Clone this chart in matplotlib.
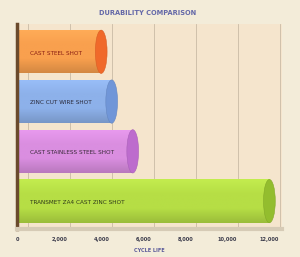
import matplotlib
matplotlib.use("Agg")
import matplotlib.pyplot as plt
import numpy as np
from matplotlib.patches import Ellipse
from matplotlib.colors import LinearSegmentedColormap, to_rgb
from matplotlib.transforms import ScaledTranslation
from matplotlib import font_manager

categories = ["CAST STEEL SHOT", "ZINC CUT WIRE SHOT",
              "CAST STAINLESS STEEL SHOT", "TRANSMET ZA4 CAST ZINC SHOT"]
cycle_life = [4000, 4500, 5500, 12000]
tick_values = [0, 2000, 4000, 6000, 8000, 10000, 12000]
tick_labels = ["0", "2,000", "4,000", "6,000", "8,000", "10,000", "12,000"]

bar_colors = ["#f9a04e", "#8db1ea", "#da8ee0", "#b6de45"]
cap_colors = ["#f0692a", "#7096d8", "#bd6ccd", "#93bd2e"]
label_colors = ["#8a1e12", "#2a2a3a", "#3a2a3a", "#2f3a1a"]

# condensed font for the labels
names = {f.name for f in font_manager.fontManager.ttflist}
if "Liberation Sans Narrow" in names:
    narrow = dict(family="Liberation Sans Narrow")
else:
    narrow = dict(family="DejaVu Sans", fontstretch="condensed")

fig = plt.figure(figsize=(3.0, 2.57), dpi=100)
fig.patch.set_facecolor("#f3ecd9")
ax = fig.add_axes([0.057, 0.109, 0.883, 0.798])
ax.set_facecolor("#f5e5cd")

y = np.arange(len(categories))
bars = ax.barh(y, cycle_life, height=0.87, color=bar_colors, zorder=2)

# cylinder shading + end caps
for bar, c, cc in zip(bars, bar_colors, cap_colors):
    x0, y0 = bar.get_x(), bar.get_y()
    w, h = bar.get_width(), bar.get_height()
    base = np.array(to_rgb(c))
    light = np.clip(base * 1.03 + 0.03, 0, 1)
    dark = base * 0.85
    cmap = LinearSegmentedColormap.from_list("cyl", [light, base, base, dark])
    grad = np.linspace(0, 1, 64).reshape(-1, 1)
    im = ax.imshow(grad, extent=(x0, x0 + w, y0 + h, y0), cmap=cmap,
                   aspect="auto", zorder=2.1)
    im.set_clip_path(bar)
    ax.add_patch(Ellipse((x0 + w, y0 + h / 2), width=560, height=h,
                         facecolor=cc, edgecolor=np.array(to_rgb(cc)) * 0.9,
                         lw=0.4, zorder=2.2))

for yi, name, lc in zip(y, categories, label_colors):
    ax.annotate(name, (0, yi), xytext=(9, -1), textcoords="offset points",
                va="center", ha="left", fontsize=4.6, color=lc, zorder=3,
                **narrow)

ax.set_xlim(0, 12600)
ax.set_ylim(3.56, -0.56)
ax.set_xticks(tick_values)
ax.set_xticklabels(tick_labels, fontsize=3.6, fontweight="bold", color="#3a3a4a")
ax.set_yticks([])
ax.tick_params(axis="x", length=0, pad=6)

ax.grid(axis="x", color="#c9bba5", lw=0.6, zorder=0)
ax.set_axisbelow(True)
off = ScaledTranslation(8 / 72, 0, fig.dpi_scale_trans)
for gl in ax.get_xgridlines():
    gl.set_transform(gl.get_transform() + off)

for s in ["top", "right"]:
    ax.spines[s].set_visible(False)
ax.spines["left"].set_color("#6a4a2c")
ax.spines["left"].set_linewidth(2.5)
ax.spines["bottom"].set_color("#d6cbb6")
ax.spines["bottom"].set_linewidth(3)

fig.text(0.493, 0.948, "DURABILITY COMPARISON", ha="center", va="center",
         fontsize=5.3, color="#6468a8", fontweight="bold", **narrow)
ax.set_xlabel("CYCLE LIFE", fontsize=4, color="#5a5a9a", fontweight="bold",
              labelpad=4, **narrow)

fig.savefig("out.png", dpi=100, facecolor=fig.get_facecolor())
